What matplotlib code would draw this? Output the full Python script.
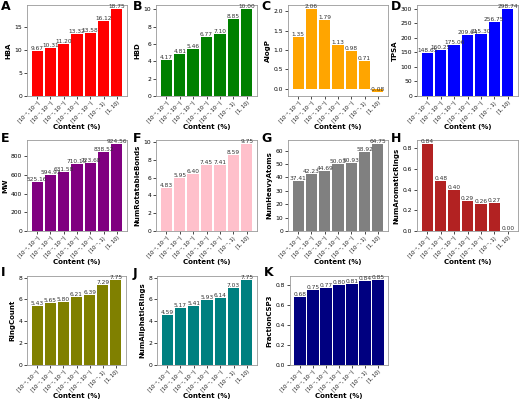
import numpy as np
import matplotlib
matplotlib.use("Agg")
import matplotlib.pyplot as plt

# --- data ---
bins = ["[10⁻⁶, 10⁻⁵)", "[10⁻⁵, 10⁻⁴)", "[10⁻⁴, 10⁻³)", "[10⁻³, 10⁻²)",
        "[10⁻², 10⁻¹)", "[10⁻¹, 1)", "[1, 10)"]

hba = [9.67, 10.31, 11.20, 13.32, 13.58, 16.12, 18.75]
hbd = [4.17, 4.81, 5.46, 6.77, 7.10, 8.85, 10.00]
alogp = [1.35, 2.06, 1.79, 1.13, 0.98, 0.71, -0.08]
tpsa = [148.65, 160.25, 175.06, 209.64, 215.30, 256.75, 298.74]
mw = [525.16, 594.93, 631.58, 710.10, 723.68, 838.52, 924.56]
rot_bonds = [4.83, 5.95, 6.40, 7.45, 7.41, 8.59, 9.75]
heavy_atoms = [37.41, 42.23, 44.69, 50.03, 50.93, 58.92, 64.75]
arom_rings = [0.84, 0.48, 0.40, 0.29, 0.26, 0.27, 0.00]
ring_count = [5.43, 5.65, 5.80, 6.21, 6.39, 7.29, 7.75]
aliph_rings = [4.59, 5.17, 5.41, 5.93, 6.14, 7.03, 7.75]
fcsp3 = [0.68, 0.75, 0.77, 0.80, 0.81, 0.84, 0.85]

panels = [
    ("A", "HBA", hba, "red"),
    ("B", "HBD", hbd, "green"),
    ("C", "AlogP", alogp, "orange"),
    ("D", "TPSA", tpsa, "blue"),
    ("E", "MW", mw, "purple"),
    ("F", "NumRotatableBonds", rot_bonds, "pink"),
    ("G", "NumHeavyAtoms", heavy_atoms, "gray"),
    ("H", "NumAromaticRings", arom_rings, "firebrick"),
    ("I", "RingCount", ring_count, "olive"),
    ("J", "NumAliphaticRings", aliph_rings, "teal"),
    ("K", "FractionCSP3", fcsp3, "navy"),
]

# axes rectangles in pixels (left, top, right, bottom) and panel letter spots
W, H = 520, 401
rects = [
    (27, 5, 127, 96), (156, 5, 257, 96), (288, 5, 388, 96), (417, 5, 518, 96),
    (27, 140, 127, 231), (156, 140, 257, 231), (288, 140, 388, 231), (417, 140, 518, 231),
    (27, 276, 126, 365), (157, 276, 257, 365), (290, 276, 388, 365),
]
letter_pos = [
    (1, 7), (133, 7), (261, 7), (391, 7),
    (1, 139), (133, 139), (261, 139), (391, 139),
    (1, 273), (133, 273), (264, 273),
]

fig = plt.figure(figsize=(W / 100, H / 100), dpi=100)

for (letter, name, vals, color), (l, t, r, b), (lx, ly) in zip(panels, rects, letter_pos):
    ax = fig.add_axes([l / W, 1 - b / H, (r - l) / W, (b - t) / H])
    x = np.arange(len(bins))
    ax.bar(x, vals, color=color, width=0.85)
    for xi, v in zip(x, vals):
        ax.text(xi, v, f"{v:.2f}", ha="center", va="bottom", fontsize=4.2, color="#333333")
    ax.set_xticks(x)
    ax.set_xticklabels(bins, rotation=45, ha="right", rotation_mode="anchor", fontsize=3.5)
    ax.tick_params(axis="y", labelsize=4.3, length=2, width=0.5, pad=1.5)
    ax.tick_params(axis="x", length=2, width=0.5, pad=1.2)
    ax.set_xlabel("Content (%)", fontsize=5, fontweight="bold")
    ax.xaxis.set_label_coords(0.5, -0.31)
    ax.set_ylabel(name, fontsize=5, fontweight="bold", labelpad=2)
    for s in ax.spines.values():
        s.set_color("#999999")
        s.set_linewidth(0.6)
    fig.text(lx / W, 1 - ly / H, letter, fontsize=9, fontweight="bold", va="center")

fig.savefig("out.png", dpi=100)
